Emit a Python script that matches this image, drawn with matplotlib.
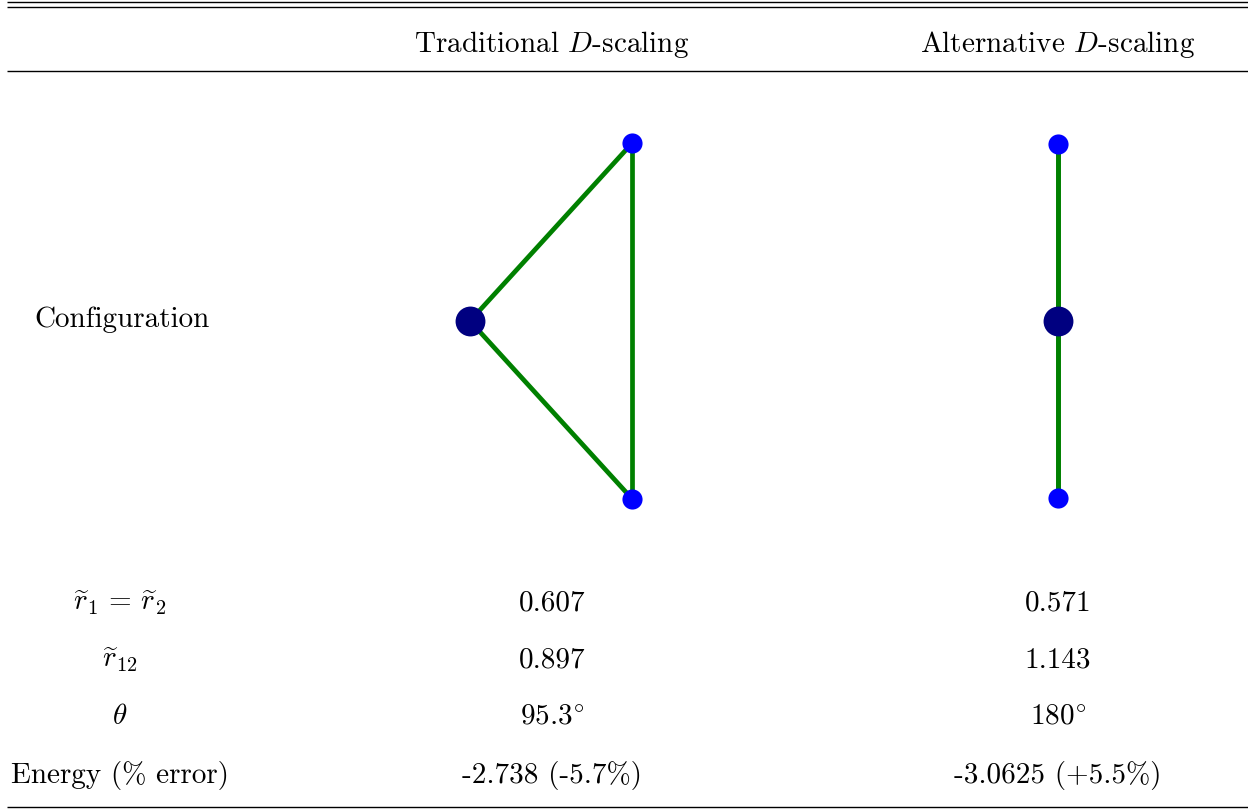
import numpy as np
import matplotlib
matplotlib.use("Agg")
import matplotlib.pyplot as plt

plt.rcParams['mathtext.fontset'] = 'cm'
plt.rcParams['font.family'] = ['cmr10', 'DejaVu Serif']
plt.rcParams['axes.unicode_minus'] = False

# ---- data ----
columns = ["Traditional $D$-scaling", "Alternative $D$-scaling"]
row_labels = [r"$\widetilde{r}_1 \,=\, \widetilde{r}_2$", r"$\widetilde{r}_{12}$", r"$\theta$", "Energy (% error)"]
r_values = [0.607, 0.571]
r12_values = [0.897, 1.143]
theta_values = [95.3, 180.0]
energy_text = ["-2.738 (-5.7%)", "-3.0625 (+5.5%)"]

W, H = 1248, 811
fig = plt.figure(figsize=(W / 100, H / 100), dpi=100)
ax = fig.add_axes([0, 0, 1, 1])
ax.set_xlim(0, W)
ax.set_ylim(H, 0)
ax.axis('off')

# rules
for y in (1.8, 6.8, 70.5, 806.5):
    ax.plot([7, W], [y, y], color='black', lw=1.0, solid_capstyle='butt')

fs = 21
col_x = [552, 1058]
label_x = 120
row_y = [603, 660, 717, 776]

for cx, name in zip(col_x, columns):
    ax.text(cx, 45, name, ha='center', va='center', fontsize=fs)

ax.text(122, 320, "Configuration", ha='center', va='center', fontsize=fs)

cells = [
    [f"{v:.3f}" for v in r_values],
    [f"{v:.3f}" for v in r12_values],
    [(f"{v:g}" + r"$^{\circ}$") for v in theta_values],
    energy_text,
]
for ry, lab, row in zip(row_y, row_labels, cells):
    ax.text(label_x, ry, lab, ha='center', va='center', fontsize=fs)
    for cx, val in zip(col_x, row):
        ax.text(cx, ry, val, ha='center', va='center', fontsize=fs)

# configuration panels (pixel box, nucleus pixel position, px per unit)
panels = [
    dict(box=(430, 100, 680, 540), nuc=(470, 321), scale=397.0),
    dict(box=(1000, 100, 1120, 540), nuc=(1058, 321), scale=310.0),
]
for p, r, th in zip(panels, r_values, theta_values):
    x0, y0, x1, y1 = p['box']
    nx, ny = p['nuc']
    s = p['scale']
    pax = fig.add_axes([x0 / W, 1 - y1 / H, (x1 - x0) / W, (y1 - y0) / H])
    pax.set_xlim((x0 - nx) / s, (x1 - nx) / s)
    pax.set_ylim((ny - y1) / s, (ny - y0) / s)
    pax.axis('off')
    half = np.deg2rad(th / 2)
    ex = r * np.cos(half)
    ey = r * np.sin(half)
    e1 = (ex, ey)
    e2 = (ex, -ey)
    g = '#008000'
    pax.plot([0, e1[0]], [0, e1[1]], color=g, lw=3.4, zorder=1)
    pax.plot([0, e2[0]], [0, e2[1]], color=g, lw=3.4, zorder=1)
    pax.plot([e1[0], e2[0]], [e1[1], e2[1]], color=g, lw=3.4, zorder=1)
    pax.plot([e1[0], e2[0]], [e1[1], e2[1]], 'o', color='#0000ff', ms=14.5, mec='none', zorder=3)
    pax.plot([0], [0], 'o', color='#000080', ms=21.5, mec='none', zorder=3)

fig.savefig("out.png", dpi=100)
